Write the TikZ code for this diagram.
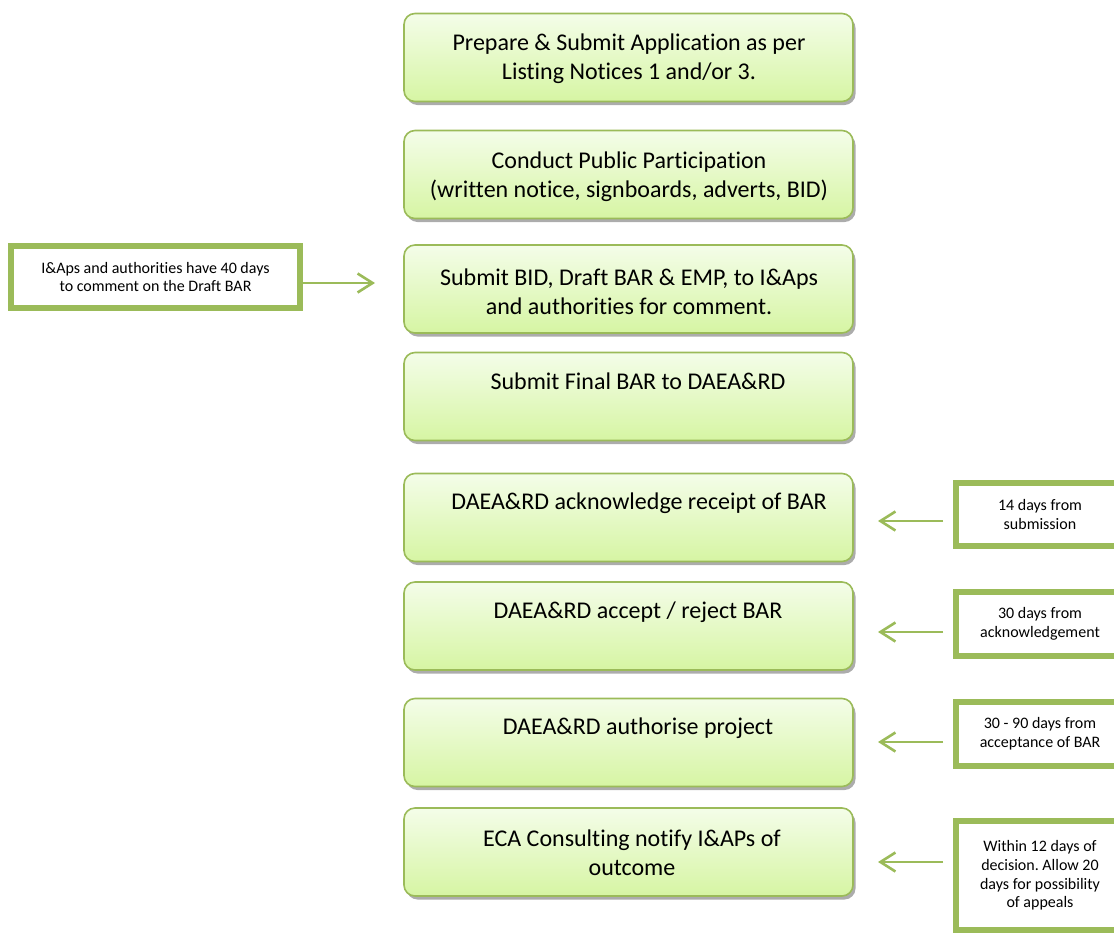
\documentclass[tikz,border=0pt]{standalone}
\usepackage{fontspec}
\setmainfont{Carlito}[Ligatures={NoCommon}]
\usetikzlibrary{arrows.meta,shadows}
\definecolor{ogreen}{HTML}{9BBB59}
\definecolor{gtop}{HTML}{F4FDE9}
\definecolor{gbot}{HTML}{D6F5A3}
\frenchspacing
\tikzset{
  mainbox/.style={draw=ogreen, line width=1.6pt, rounded corners=11pt,
    top color=gtop, bottom color=gbot, minimum width=449pt, minimum height=88pt,
    inner sep=0pt,
    drop shadow={shadow xshift=2.5pt, shadow yshift=-3.5pt, fill=black!50, opacity=0.65}},
  maintext/.style={font=\fontsize{24}{29}\selectfont, align=center, inner sep=0pt},
  notebox/.style={draw=ogreen, line width=6pt, fill=white, inner sep=0pt,
    font=\fontsize{16}{18.6}\selectfont, align=center},
  link/.style={draw=ogreen, line width=2.6pt,
    -{Straight Barb[length=15pt,width=19pt]}}
}
\begin{document}
\begin{tikzpicture}[x=1pt,y=-1pt]
\useasboundingbox (0,0) rectangle (1114,935);
\clip (0,0) rectangle (1114,935);

% main boxes
\node[mainbox] (b1) at (628.5,57.5) {};
\node[mainbox] (b2) at (628.5,174.5) {};
\node[mainbox] (b3) at (628.5,289) {};
\node[mainbox] (b4) at (628.5,396.5) {};
\node[mainbox] (b5) at (628.5,517.5) {};
\node[mainbox] (b6) at (628.5,626) {};
\node[mainbox] (b7) at (628.5,742.5) {};
\node[mainbox] (b8) at (628.5,852) {};

\node[maintext] (t1) at (629,58.5) {Prepare \& Submit Application as per\\Listing Notices 1 and/or 3.};
\node[maintext] (t2) at (629,177) {Conduct Public Participation\\(written notice, signboards, adverts, BID)};
\node[maintext] (t3) at (629,292) {Submit BID, Draft BAR \& EMP, to I\&Aps\\and authorities for comment.};
\node[maintext, anchor=base] (t4) at (638,389) {Submit Final BAR to DAEA\&RD};
\node[maintext, anchor=base] (t5) at (639,509) {DAEA\&RD acknowledge receipt of BAR};
\node[maintext, anchor=base] (t6) at (638,618) {DAEA\&RD accept / reject BAR};
\node[maintext, anchor=base] (t7) at (638,734) {DAEA\&RD authorise project};
\node[maintext] (t8) at (632,852.5) {ECA Consulting notify I\&APs of\\outcome};

% left note
\node[notebox, minimum width=289pt, minimum height=62pt] (nl) at (155.5,277)
  {I\&Aps and authorities have 40 days\\to comment on the Draft BAR};
\coordinate (la) at (375,283);
\draw[link] (nl.east |- la) -- (la);

% right notes
\node[notebox, minimum width=168pt, minimum height=63pt] (r1) at (1040,514.5)
  {14 days from\\submission};
\node[notebox, minimum width=168pt, minimum height=64pt] (r2) at (1040,624)
  {30 days from\\acknowledgement};
\node[notebox, minimum width=168pt, minimum height=64pt] (r3) at (1040,734)
  {30 - 90 days from\\acceptance of BAR};
\node[notebox, minimum width=168pt, minimum height=109pt] (r4) at (1040,875.5)
  {Within 12 days of\\decision. Allow 20\\days for possibility\\of appeals};

\coordinate (ra1) at (878,521);
\coordinate (ra2) at (878,632);
\coordinate (ra3) at (878,742);
\coordinate (ra4) at (878,862);
\draw[link] ([xshift=-10pt]r1.west |- ra1) -- (ra1);
\draw[link] ([xshift=-10pt]r2.west |- ra2) -- (ra2);
\draw[link] ([xshift=-10pt]r3.west |- ra3) -- (ra3);
\draw[link] ([xshift=-10pt]r4.west |- ra4) -- (ra4);
\end{tikzpicture}
\end{document}
